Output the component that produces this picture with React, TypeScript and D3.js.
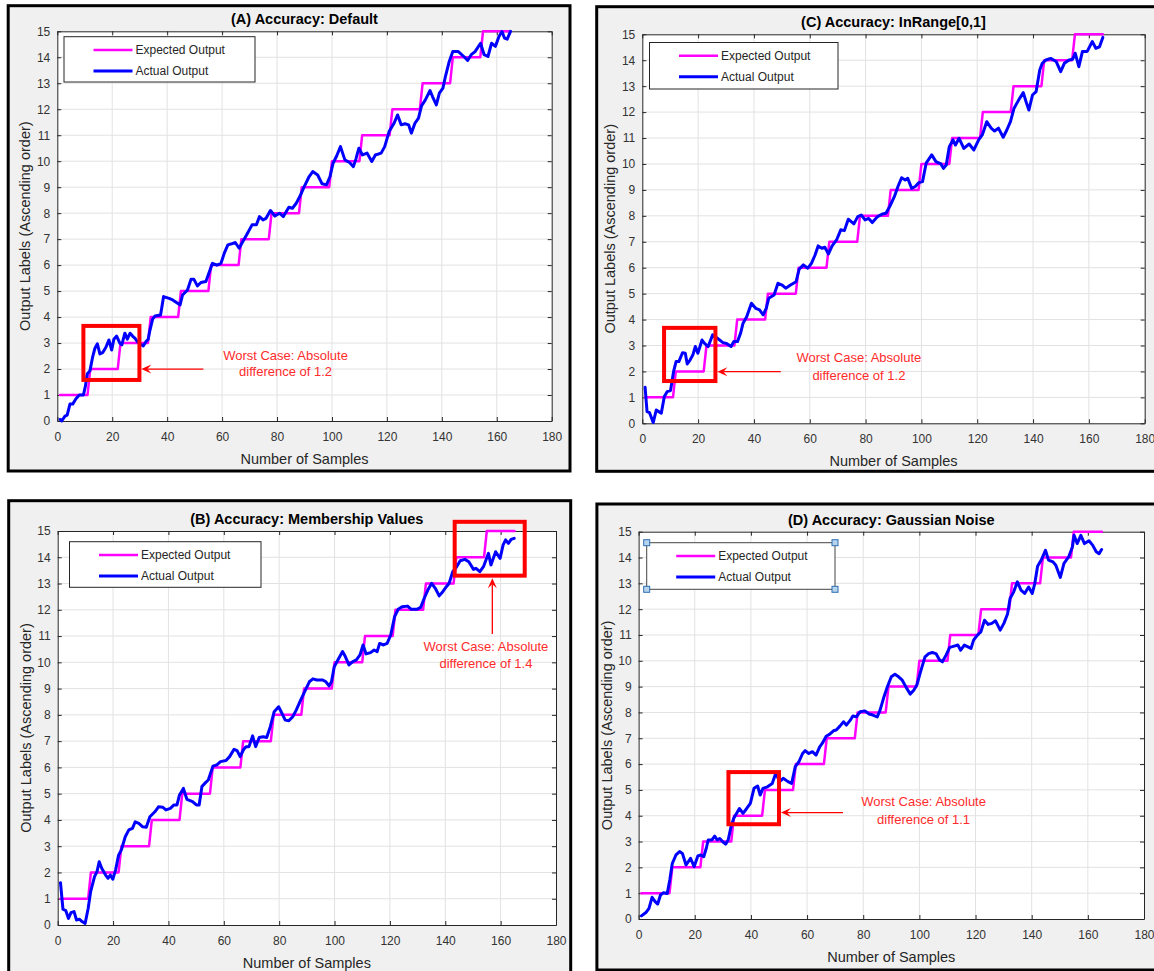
import React, { useRef, useEffect } from 'react';
import * as d3 from 'd3';

type Pt = [number, number];

const FONT = '"Liberation Sans", Arial, Helvetica, sans-serif';

const xTicks = [0, 20, 40, 60, 80, 100, 120, 140, 160, 180];
const yTicks = [0, 1, 2, 3, 4, 5, 6, 7, 8, 9, 10, 11, 12, 13, 14, 15];

// expected output: a staircase, one class level per block of samples
const levels = [1, 2, 3, 4, 5, 6, 7, 8, 9, 10, 11, 12, 13, 14, 15];
const levelStart = [1, 12, 23, 34, 45, 56, 67, 78, 89, 100, 111, 122, 133, 144, 155];
const levelEnd = [11, 22, 33, 44, 55, 66, 77, 88, 99, 110, 121, 132, 143, 154, 165];

const actualA: Pt[] = [
  [1, 0.06], [1.6, 0], [2.8, 0.19], [3.6, 0.23], [4.6, 0.65], [5.6, 0.65], [6.8, 0.86], [8, 1.0], [9.5, 1.0],
  [10.2, 1.32], [10.9, 1.81], [11.9, 1.94], [12.9, 2.48], [13.7, 2.8], [14.6, 2.97], [15.5, 2.58], [16.5, 2.63],
  [17.7, 2.84], [18.8, 3.12], [19.8, 2.73], [20.6, 3.15], [21.6, 3.27], [22.8, 2.99], [23.5, 2.93], [24.6, 3.38],
  [25.5, 3.15], [26.5, 3.38], [27.4, 3.27], [28.3, 3.18], [29.1, 3.06], [30.1, 2.97], [31.3, 2.89], [32.3, 3.06],
  [33.1, 3.15], [33.7, 3.48], [34.7, 3.92], [35.6, 4.04], [37.6, 4.08], [38.7, 4.79], [40.7, 4.72], [42, 4.66],
  [43.8, 4.53], [44.7, 4.47], [45.6, 4.85], [47.4, 5.04], [48.7, 5.46], [49.7, 5.46], [51, 5.2], [52.3, 5.33],
  [54.1, 5.37], [55.4, 5.75], [56.5, 6.07], [58.1, 6.0], [59.6, 6.07], [60.8, 6.46], [62.1, 6.78], [63.5, 6.82],
  [64.8, 6.87], [66.2, 6.65], [67.5, 6.9], [68.9, 7.16], [70.9, 7.55], [72.5, 7.55], [73.6, 7.87], [74.9, 7.74],
  [76, 7.8], [77.6, 8.1], [79.2, 7.89], [80.9, 8.0], [82.3, 7.87], [84.3, 8.23], [85.6, 8.19], [87, 8.38],
  [88.3, 8.64], [89.9, 9.02], [91.7, 9.41], [93, 9.6], [94.8, 9.47], [96.4, 9.13], [98, 9.09], [99.3, 9.41],
  [100.4, 9.92], [101.7, 10.2], [103.1, 10.56], [104.7, 10.05], [106.4, 9.95], [107.8, 9.79], [108.7, 10.08],
  [109.8, 10.5], [111.1, 10.24], [112.8, 10.31], [114.5, 9.99], [115.8, 10.24], [117.9, 10.31], [119.2, 10.56],
  [120.8, 11.14], [122.6, 11.46], [123.9, 11.78], [125.2, 11.4], [126.6, 11.44], [127.9, 11.4], [128.9, 11.08],
  [130.2, 11.46], [131.5, 11.66], [132.6, 12.13], [134, 12.36], [135.7, 12.72], [136.6, 12.49], [138, 12.17],
  [139.1, 12.62], [140.4, 12.81], [141.3, 13.26], [142.7, 13.84], [144, 14.22], [146, 14.22], [148, 14.03],
  [149.4, 13.88], [150.7, 14.1], [152.1, 14.22], [154.1, 14.54], [155.4, 14.1], [156.8, 14.03], [158.1, 14.54],
  [159.5, 14.42], [160.8, 14.8], [161.9, 14.99], [162.8, 14.74], [163.8, 14.7], [165, 15.0],
];

const actualC: Pt[] = [
  [1, 1.39], [1.7, 0.45], [2.6, 0.41], [3.9, 0.03], [5, 0.51], [5.9, 0.45], [6.8, 0.39], [7.9, 1.03], [8.9, 1.22],
  [10.1, 1.26], [11.2, 1.99], [12.1, 2.38], [13.1, 2.38], [14.4, 2.72], [15.4, 2.7], [16.1, 2.29], [17.1, 2.44],
  [18.1, 2.63], [19, 2.96], [19.9, 2.7], [21.4, 3.21], [22.3, 3.08], [23.6, 2.96], [25.2, 3.41], [26.9, 3.28],
  [28.9, 3.11], [30.2, 3.08], [31.8, 2.96], [32.8, 3.15], [34.1, 3.15], [35.2, 3.47], [36.1, 3.86], [37.4, 4.11],
  [39.1, 4.63], [40.7, 4.43], [42, 4.37], [43.3, 4.18], [44.4, 4.43], [45.3, 4.82], [47.2, 4.95], [48.6, 5.4],
  [50.1, 5.33], [51.4, 5.21], [53.1, 5.33], [55.1, 5.46], [56.2, 5.94], [57.7, 6.11], [59.3, 5.98], [60.6, 6.17],
  [61.9, 6.49], [63, 6.84], [64.3, 6.75], [65.4, 6.79], [66.7, 6.53], [68, 6.84], [69.6, 7.07], [71.1, 7.46],
  [72.4, 7.43], [73.8, 7.87], [75.8, 7.69], [77.2, 7.97], [78.5, 8.03], [79.8, 7.84], [81.1, 7.9], [82.4, 7.74],
  [84.3, 7.97], [86, 8.07], [87.3, 8.1], [88.6, 8.35], [90.3, 8.74], [91.6, 9.13], [92.9, 9.47], [94.2, 9.38],
  [95.1, 9.45], [96.5, 9.06], [97.8, 9.13], [99.1, 9.28], [100.4, 9.32], [101.7, 10.03], [103.7, 10.35],
  [105.2, 10.09], [107, 10.0], [107.9, 9.83], [108.9, 9.96], [110, 10.67], [111.3, 10.93], [112.2, 10.73],
  [113.5, 10.99], [115.2, 10.6], [117.1, 10.77], [118.8, 10.54], [120.5, 10.93], [121.8, 11.12], [123.4, 11.63],
  [125, 11.38], [126.2, 11.27], [127.6, 11.38], [129.3, 11.03], [130.6, 11.31], [131.9, 11.63], [133.2, 12.15],
  [135.2, 12.53], [136.5, 12.75], [137.5, 12.4], [138.5, 12.08], [139.8, 12.66], [141.1, 12.79], [142.4, 13.62],
  [143.3, 13.88], [144.6, 14.01], [146.3, 14.07], [148.3, 13.95], [149.9, 13.56], [151.2, 13.88], [152.9, 14.01],
  [154.2, 14.04], [155.1, 14.27], [156.4, 13.75], [157.7, 14.34], [159.4, 14.34], [161.2, 14.72], [162.5, 14.46],
  [163.8, 14.52], [165, 14.88],
];

const actualB: Pt[] = [
  [1, 1.61], [1.9, 0.6], [2.9, 0.55], [3.9, 0.25], [4.8, 0.47], [5.9, 0.51], [6.8, 0.19], [7.9, 0.22], [8.8, 0.13],
  [9.9, 0.06], [11, 0.63], [11.9, 1.27], [13.3, 1.84], [14.2, 2.03], [15, 2.41], [15.9, 2.16], [17.3, 1.9],
  [18.2, 1.78], [19, 1.9], [19.9, 1.74], [20.9, 2.09], [22, 2.66], [23, 2.86], [24.4, 3.36], [25.7, 3.62],
  [27, 3.68], [28, 3.93], [29.3, 3.87], [30.7, 3.74], [32, 3.72], [33.3, 4.12], [35.1, 4.31], [36.4, 4.5],
  [38, 4.48], [39.1, 4.38], [40.7, 4.44], [42, 4.57], [43.1, 4.57], [44, 4.95], [45.4, 5.2], [46.7, 4.78],
  [48.7, 4.7], [50.1, 4.57], [51.1, 4.57], [52.1, 5.27], [53.4, 5.42], [54.4, 5.52], [56.1, 6.05], [57.4, 6.09],
  [58.8, 6.22], [60.8, 6.26], [62.1, 6.41], [63.7, 6.69], [64.8, 6.64], [65.9, 6.41], [67.2, 6.69], [68.1, 6.79],
  [69.1, 6.79], [70.4, 7.2], [71.5, 6.79], [72.8, 7.14], [74.2, 7.17], [75.5, 7.14], [76.8, 7.55], [78.2, 8.12],
  [79.8, 8.31], [80.9, 8.08], [82.2, 7.8], [83.5, 7.78], [84.9, 7.93], [86.2, 8.19], [87.8, 8.57], [89.6, 8.97],
  [90.9, 9.26], [92.2, 9.37], [93.6, 9.33], [95.6, 9.33], [96.9, 9.26], [98, 9.1], [98.9, 9.26], [99.9, 9.83],
  [101.2, 10.09], [102.9, 10.41], [103.9, 10.22], [105.2, 9.9], [106.6, 10.03], [107.9, 10.09], [109.2, 10.28],
  [110.3, 10.66], [111.4, 10.32], [113, 10.37], [114.3, 10.47], [115.4, 10.41], [116.3, 10.72], [117.7, 10.66],
  [119, 10.72], [120.3, 11.04], [121.7, 11.74], [123, 12.02], [124.4, 12.12], [126.4, 12.14], [127.7, 12.02],
  [129.7, 12.02], [131.1, 12.09], [132.4, 12.44], [133.7, 12.75], [135.1, 13.01], [136.4, 12.82], [137.8, 12.53],
  [139.1, 12.69], [140.4, 12.88], [141.4, 13.01], [142.7, 13.45], [144, 13.62], [145.4, 13.87], [147.1, 13.92],
  [148.5, 13.83], [150.2, 13.54], [151.1, 13.58], [152.5, 13.45], [153.8, 13.64], [155.6, 14.15], [156.5, 13.71],
  [158.2, 14.21], [159.8, 13.96], [160.9, 14.47], [161.8, 14.66], [162.8, 14.53], [163.8, 14.68], [164.9, 14.72],
];

const actualD: Pt[] = [
  [1, 0.12], [2.6, 0.25], [3.7, 0.41], [4.8, 0.84], [5.9, 0.67], [6.8, 0.58], [7.8, 0.93], [8.9, 1.02],
  [10.2, 0.99], [11.1, 1.51], [12, 2.15], [13.3, 2.48], [14.6, 2.61], [15.6, 2.54], [16.9, 2.09], [18.5, 2.35],
  [19.8, 2.03], [21.1, 2.44], [22.2, 2.48], [23.2, 2.41], [24.1, 2.74], [24.8, 3.06], [26.1, 3.06], [27.1, 3.21],
  [28, 3.06], [28.9, 3.12], [30, 2.99], [31, 2.9], [31.9, 3.06], [32.9, 3.57], [33.9, 3.9], [35.9, 4.28],
  [37.2, 4.09], [38.5, 4.28], [39.8, 4.48], [41.1, 5.06], [42.4, 5.15], [43.3, 4.8], [44.3, 5.06], [45.9, 5.12],
  [47.6, 5.25], [48.9, 5.66], [50.2, 5.32], [51.5, 5.45], [53.2, 5.32], [54.5, 5.25], [55.8, 5.9], [57.1, 6.09],
  [58.4, 6.41], [59.3, 6.52], [60.6, 6.41], [61.9, 6.48], [63.2, 6.35], [64.5, 6.67], [65.4, 6.8], [66.8, 7.08],
  [68.1, 7.16], [69.4, 7.29], [70.4, 7.32], [71.7, 7.47], [73, 7.64], [74, 7.51], [75.4, 7.7], [76.3, 7.86],
  [77.6, 7.83], [78.9, 8.03], [80.6, 8.06], [82.1, 7.94], [83.4, 7.9], [85, 7.83], [86, 8.09], [87.4, 8.61],
  [88.7, 9.02], [90, 9.38], [91.3, 9.48], [92.6, 9.38], [93.9, 9.25], [95.2, 8.99], [96.7, 8.71], [98, 8.86],
  [99.1, 9.06], [100.4, 9.57], [102, 10.15], [103.3, 10.28], [104.6, 10.32], [105.9, 10.28], [107.2, 10.03],
  [108.2, 9.96], [109.5, 10.22], [110.8, 10.52], [112.4, 10.57], [113.7, 10.61], [114.7, 10.41], [116, 10.61],
  [117.3, 10.54], [118.4, 10.48], [119.3, 10.8], [120.6, 10.99], [121.9, 11.12], [123.2, 11.57], [124.5, 11.41],
  [125.8, 11.45], [127.1, 11.55], [128.8, 11.19], [130.1, 11.45], [131.4, 11.81], [132.3, 12.41], [133.6, 12.67],
  [134.9, 13.06], [136.2, 12.74], [137.5, 12.61], [138.9, 12.86], [140.2, 12.61], [141.1, 12.99], [142.1, 13.66],
  [143.4, 13.9], [144.9, 14.28], [146, 13.9], [147.6, 13.83], [148.6, 13.7], [150.2, 13.23], [151.5, 13.77],
  [153.2, 14.03], [154.5, 14.41], [155.1, 14.86], [156.2, 14.54], [157.5, 14.86], [158.8, 14.54], [160.4, 14.65],
  [161.7, 14.48], [163, 14.22], [164, 14.15], [164.9, 14.31],
];

interface PanelSpec {
  title: string;
  frame: [number, number, number, number];
  plot: { left: number; right: number; top: number; bottom: number };
  legend: { x: number; y: number; w: number; h: number; handles: boolean };
  actual: Pt[];
  box: [number, number, number, number];
  arrow: [number, number, number, number];
  note: { x: number; y1: number; y2: number; text: [string, string] };
}

const panels: PanelSpec[] = [
  {
    title: '(A) Accuracy: Default',
    frame: [8.2, 5.7, 561.8, 465.3],
    plot: { left: 57.3, right: 551.7, top: 31.3, bottom: 421 },
    legend: { x: 64, y: 36.7, w: 191, h: 45.3, handles: false },
    actual: actualA,
    box: [9.5, 29.9, 1.58, 3.66],
    arrow: [53.2, 2.0, 30.6, 2.0],
    note: { x: 83.1, y1: 2.54, y2: 1.9, text: ['Worst Case: Absolute', 'difference of 1.2'] },
  },
  {
    title: '(C) Accuracy: InRange[0,1]',
    frame: [596.7, 6.7, 620, 464.6],
    plot: { left: 642.3, right: 1144.7, top: 34.3, bottom: 423.3 },
    legend: { x: 649.5, y: 42.5, w: 188.5, h: 46.5, handles: false },
    actual: actualC,
    box: [7.8, 26.2, 1.63, 3.68],
    arrow: [49.6, 1.99, 26.9, 1.99],
    note: { x: 77.6, y1: 2.52, y2: 1.86, text: ['Worst Case: Absolute', 'difference of 1.2'] },
  },
  {
    title: '(B) Accuracy: Membership Values',
    frame: [8.7, 500.7, 562, 480],
    plot: { left: 57.7, right: 556, top: 531, bottom: 925 },
    legend: { x: 69.5, y: 541.7, w: 191.5, h: 45.6, handles: false },
    actual: actualB,
    box: [143.4, 168.7, 13.3, 15.35],
    arrow: [157, 11.08, 157, 13.2],
    note: { x: 154.7, y1: 10.59, y2: 9.94, text: ['Worst Case: Absolute', 'difference of 1.4'] },
  },
  {
    title: '(D) Accuracy: Gaussian Noise',
    frame: [596.9, 504, 620, 466],
    plot: { left: 638.6, right: 1144, top: 531.7, bottom: 919 },
    legend: { x: 646.7, y: 542.7, w: 188.3, h: 46.6, handles: true },
    actual: actualD,
    box: [32, 50, 3.67, 5.69],
    arrow: [72.8, 4.12, 50.7, 4.12],
    note: { x: 101.5, y1: 4.54, y2: 3.87, text: ['Worst Case: Absolute', 'difference of 1.1'] },
  },
];

const drawPanel = (svg: any, p: PanelSpec, idx: number) => {
  const g = svg.append('g');
  const [fx, fy, fw, fh] = p.frame;
  g.append('rect')
    .attr('x', fx).attr('y', fy).attr('width', fw).attr('height', fh)
    .attr('fill', '#f0f0f0').attr('stroke', '#000').attr('stroke-width', 3);

  const x = d3.scaleLinear().domain([0, 180]).range([p.plot.left, p.plot.right]);
  const y = d3.scaleLinear().domain([0, 15]).range([p.plot.bottom, p.plot.top]);

  g.append('rect')
    .attr('x', x(0)).attr('y', y(15))
    .attr('width', x(180) - x(0)).attr('height', y(0) - y(15))
    .attr('fill', '#fff');

  // grid
  const grid = g.append('g').attr('stroke', '#e2e2e2').attr('stroke-width', 1);
  grid.selectAll('.gx').data(xTicks.slice(1, -1)).join('line').attr('class', 'gx')
    .attr('x1', d => x(d)).attr('x2', d => x(d)).attr('y1', y(0)).attr('y2', y(15));
  grid.selectAll('.gy').data(yTicks.slice(1, -1)).join('line').attr('class', 'gy')
    .attr('y1', d => y(d)).attr('y2', d => y(d)).attr('x1', x(0)).attr('x2', x(180));

  // axes, ticks pointing inward on all four sides
  const styleAxis = (a: any) => {
    a.attr('font-family', FONT).attr('font-size', 12);
    a.selectAll('path, line').attr('stroke', '#262626');
    a.selectAll('text').attr('fill', '#333');
  };
  g.append('g').attr('transform', `translate(0,${y(0)})`)
    .call(d3.axisBottom(x).tickValues(xTicks).tickSize(-4).tickSizeOuter(0).tickPadding(11))
    .call(styleAxis);
  g.append('g').attr('transform', `translate(0,${y(15)})`)
    .call(d3.axisTop(x).tickValues(xTicks).tickSize(-4).tickSizeOuter(0).tickFormat(() => ''))
    .call(styleAxis);
  g.append('g').attr('transform', `translate(${x(0)},0)`)
    .call(d3.axisLeft(y).tickValues(yTicks).tickSize(-4).tickSizeOuter(0).tickPadding(7))
    .call(styleAxis);
  g.append('g').attr('transform', `translate(${x(180)},0)`)
    .call(d3.axisRight(y).tickValues(yTicks).tickSize(-4).tickSizeOuter(0).tickFormat(() => ''))
    .call(styleAxis);

  // lines
  const clipId = `plot-clip-${idx}`;
  g.append('clipPath').attr('id', clipId).append('rect')
    .attr('x', x(0) - 2).attr('y', y(15) - 2)
    .attr('width', x(180) - x(0) + 4).attr('height', y(0) - y(15) + 4);

  const line = d3.line<Pt>().x(d => x(d[0])).y(d => y(d[1]));
  const expected: Pt[] = levels.flatMap((lv, i) => [[levelStart[i], lv], [levelEnd[i], lv]] as Pt[]);

  const lines = g.append('g').attr('clip-path', `url(#${clipId})`).attr('fill', 'none')
    .attr('stroke-linejoin', 'round').attr('stroke-linecap', 'round');
  lines.append('path').attr('d', line(expected)).attr('stroke', '#ff00ff').attr('stroke-width', 2.5);
  lines.append('path').attr('d', line(p.actual)).attr('stroke', '#0000ff').attr('stroke-width', 3);

  // title and axis labels
  const cx = (x(0) + x(180)) / 2;
  g.append('text').attr('x', cx).attr('y', y(15) - 12).attr('dy', '0.35em')
    .attr('text-anchor', 'middle').attr('font-family', FONT).attr('font-size', 14.5)
    .attr('font-weight', 'bold').attr('fill', '#000').text(p.title);
  g.append('text').attr('x', cx).attr('y', y(0) + 37.5).attr('dy', '0.35em')
    .attr('text-anchor', 'middle').attr('font-family', FONT).attr('font-size', 14.5)
    .attr('fill', '#262626').text('Number of Samples');
  g.append('text')
    .attr('transform', `translate(${x(0) - 32},${(y(0) + y(15)) / 2}) rotate(-90)`)
    .attr('dy', '0.35em').attr('text-anchor', 'middle').attr('font-family', FONT)
    .attr('font-size', 14.5).attr('fill', '#262626').text('Output Labels (Ascending order)');

  // legend
  const L = p.legend;
  const lg = g.append('g');
  lg.append('rect').attr('x', L.x).attr('y', L.y).attr('width', L.w).attr('height', L.h)
    .attr('fill', '#fff').attr('stroke', L.handles ? '#444' : '#262626').attr('stroke-width', 1);
  const rows = [
    { label: 'Expected Output', color: '#ff00ff', dy: 13.3, w: 2.5 },
    { label: 'Actual Output', color: '#0000ff', dy: 34.3, w: 3 },
  ];
  rows.forEach(r => {
    lg.append('line').attr('x1', L.x + 29.5).attr('x2', L.x + 68.5)
      .attr('y1', L.y + r.dy).attr('y2', L.y + r.dy)
      .attr('stroke', r.color).attr('stroke-width', r.w);
    lg.append('text').attr('x', L.x + 71.5).attr('y', L.y + r.dy).attr('dy', '0.35em')
      .attr('font-family', FONT).attr('font-size', 12).attr('fill', '#262626').text(r.label);
  });
  if (L.handles) {
    const corners = [[L.x, L.y], [L.x + L.w, L.y], [L.x, L.y + L.h], [L.x + L.w, L.y + L.h]];
    lg.selectAll('.handle').data(corners).join('rect').attr('class', 'handle')
      .attr('x', d => d[0] - 3).attr('y', d => d[1] - 3).attr('width', 6).attr('height', 6)
      .attr('fill', '#b7d4ee').attr('stroke', '#2f6fb2').attr('stroke-width', 1);
  }

  // worst case annotation
  const red = '#ff0000';
  const [bx0, bx1, by0, by1] = p.box;
  g.append('rect').attr('x', x(bx0)).attr('y', y(by1))
    .attr('width', x(bx1) - x(bx0)).attr('height', y(by0) - y(by1))
    .attr('fill', 'none').attr('stroke', red).attr('stroke-width', 4);

  const [ax0, ay0, ax1, ay1] = p.arrow;
  const sx = x(ax0), sy = y(ay0), tx = x(ax1), ty = y(ay1);
  const len = Math.hypot(tx - sx, ty - sy);
  const ux = (tx - sx) / len, uy = (ty - sy) / len;
  const nx = -uy, ny = ux;
  const head = 10, half = 4.5;
  g.append('line').attr('x1', sx).attr('y1', sy)
    .attr('x2', tx - ux * head * 0.6).attr('y2', ty - uy * head * 0.6)
    .attr('stroke', red).attr('stroke-width', 1.3);
  const headPts = [
    [tx, ty],
    [tx - ux * head + nx * half, ty - uy * head + ny * half],
    [tx - ux * head * 0.6, ty - uy * head * 0.6],
    [tx - ux * head - nx * half, ty - uy * head - ny * half],
  ];
  g.append('polygon').attr('points', headPts.map(d => d.join(',')).join(' ')).attr('fill', red);

  const n = p.note;
  [[n.y1, n.text[0]], [n.y2, n.text[1]]].forEach(([yy, t]) => {
    g.append('text').attr('x', x(n.x)).attr('y', y(yy as number)).attr('dy', '0.35em')
      .attr('text-anchor', 'middle').attr('font-family', FONT).attr('font-size', 13)
      .attr('fill', '#ff2b2b').text(t as string);
  });
};

const App = () => {
  const svgRef = useRef<SVGSVGElement>(null);

  useEffect(() => {
    const svg = d3.select(svgRef.current);
    svg.selectAll('*').remove();
    panels.forEach((p, i) => drawPanel(svg, p, i));
  }, []);

  return (
    <svg
      ref={svgRef}
      width={1154}
      height={971}
      style={{ position: 'absolute', left: 0, top: 0, background: '#fff', display: 'block' }}
    />
  );
};

export default App;
